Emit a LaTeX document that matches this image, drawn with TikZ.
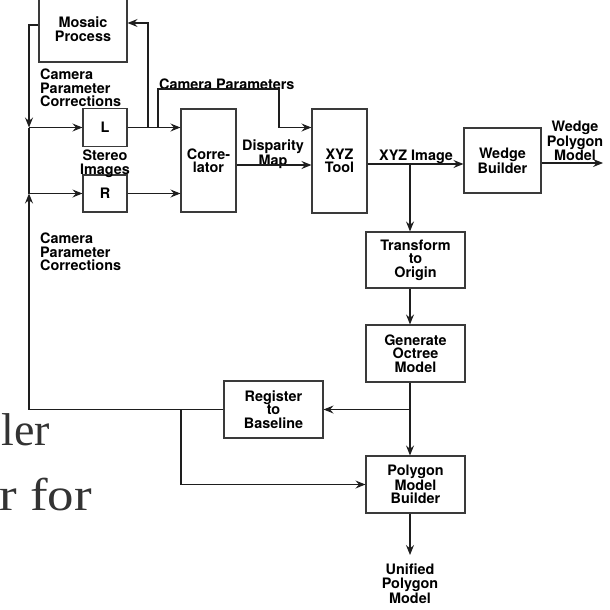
\documentclass[tikz,border=0pt]{standalone}
\usepackage{fontspec}
\setmainfont{TeX Gyre Heros}
\newfontfamily\pagefont{Liberation Serif}
\usetikzlibrary{
  arrows.meta,
  positioning,
  calc
}
\definecolor{fdLine}{HTML}{1E1E1E}
\definecolor{fdBox}{HTML}{3A3A3A}
\definecolor{fdPage}{HTML}{333333}
\tikzset{
  fdnode/.style={
    draw=fdBox, line width=1.1pt, align=center, inner sep=1pt,
    font=\fontsize{14.4}{13.5}\selectfont\bfseries
  },
  fdlabel/.style={align=center, inner sep=0pt, font=\fontsize{14.4}{13.5}\selectfont\bfseries},
  fdtight/.style={fdlabel, font=\fontsize{14.4}{13}\selectfont\bfseries},
  dataflow/.style={-{Stealth[length=10pt, width=8pt, inset=3.5pt]}, line width=1.1pt, fdLine},
  feedline/.style={line width=1.1pt, fdLine},
  pagetext/.style={font=\pagefont\fontsize{46}{46}\selectfont, text=fdPage, inner sep=0pt, anchor=base east}
}

\begin{document}
\begin{tikzpicture}[x=1pt, y=-1pt]
  \useasboundingbox (0,0) rectangle (610,610);
  \clip (0,0) rectangle (610,610);

  % page text behind the figure
  \node[pagetext] (pageA) at (50,445) {ler};
  \node[pagetext, xscale=1.15] (pageB) at (92,510) {r for};

  % boxes
  \node[fdnode, minimum width=88pt, minimum height=66pt] (mosaic) at (83,29) {Mosaic\\Process};
  \node[fdnode, minimum width=44pt, minimum height=38pt] (L) at (105,127.5) {L};
  \node[fdnode, minimum width=44pt, minimum height=37pt] (R) at (105,193.5) {R};
  \node[fdnode, minimum width=55pt, minimum height=103pt] (corr) at (208.5,160.5) {Corre-\\lator};
  \node[fdnode, minimum width=55pt, minimum height=104pt] (xyz) at (339.5,161) {XYZ\\Tool};
  \node[fdnode, minimum width=77pt, minimum height=65pt] (wedge) at (502.5,160.5) {Wedge\\Builder};
  \node[fdnode, minimum width=99pt, minimum height=56pt] (transform) at (415.5,260) {Transform\\to\\Origin};
  \node[fdnode, minimum width=99pt, minimum height=57pt] (generate) at (415.5,353.5) {Generate\\Octree\\Model};
  \node[fdnode, minimum width=99pt, minimum height=57pt] (register) at (273.5,409.5) {Register\\to\\Baseline};
  \node[fdnode, minimum width=99pt, minimum height=57pt] (polygon) at (415.5,484.5) {Polygon\\Model\\Builder};

  % labels
  \node[fdlabel, align=left, anchor=north west] (corrTop) at (40,69) {Camera\\Parameter\\Corrections};
  \node[fdlabel, anchor=north] (stereo) at (105,150) {Stereo\\Images};
  \node[fdlabel, align=left, anchor=north west] (corrBot) at (40,233) {Camera\\Parameter\\Corrections};
  \node[fdlabel, anchor=base west] (camPar) at (159,89) {Camera Parameters};
  \node[fdlabel, anchor=north] (dispMap) at (273,140) {Disparity\\Map};
  \node[fdlabel, anchor=base west] (xyzImg) at (379,160) {XYZ Image};
  \node[fdtight, anchor=north] (wedgeMod) at (575,121) {Wedge\\Polygon\\Model};
  \node[fdlabel, anchor=north] (unified) at (410,564) {Unified\\Polygon\\Model};

  % junctions
  \coordinate (camL) at (29,127.5);
  \coordinate (camR) at (29,193.5);
  \coordinate (toMosaic) at (148,127.5);
  \coordinate (toXYZ) at (158,127.5);
  \coordinate (camTop) at (279,89);
  \coordinate (xyzSplit) at (410,164);
  \coordinate (octSplit) at (410,409.5);
  \coordinate (regSplit) at (181,409.5);
  \coordinate (wedgeOut) at (603,163);
  \coordinate (unifiedOut) at (410,555);

  % connectors
  \draw[dataflow] ([yshift=4pt]mosaic.west) -| (camL);
  \draw[feedline] (camL) -- (camR);
  \draw[dataflow] (camL) -- (L.west);
  \draw[dataflow] (camR) -- (R.west);
  \draw[dataflow] (L.east) -- (L.east -| corr.west);
  \draw[dataflow] (toMosaic) |- ([yshift=6pt]mosaic.east);
  \draw[dataflow] (toXYZ) |- (camTop) |- (xyz.west |- L.east);
  \draw[dataflow] (R.east) -- (R.east -| corr.west);
  \draw[dataflow] ([yshift=-4.5pt]corr.east) -- ([yshift=-4.5pt]corr.east -| xyz.west);
  \draw[dataflow] ([yshift=-3pt]xyz.east) -- ([yshift=-3pt]xyz.east -| wedge.west);
  \draw[dataflow] ([yshift=-2.5pt]wedge.east) -- (wedgeOut);
  \draw[dataflow] (xyzSplit) -- (xyzSplit |- transform.north);
  \draw[dataflow] (xyzSplit |- transform.south) -- (xyzSplit |- generate.north);
  \draw[feedline] (xyzSplit |- generate.south) -- (octSplit);
  \draw[dataflow] (octSplit) -- (register.east);
  \draw[dataflow] (octSplit) -- (octSplit |- polygon.north);
  \draw[dataflow] (register.west) -| (camR);
  \draw[dataflow] (regSplit) |- (polygon.west);
  \draw[dataflow] (octSplit |- polygon.south) -- (unifiedOut);
\end{tikzpicture}
\end{document}
